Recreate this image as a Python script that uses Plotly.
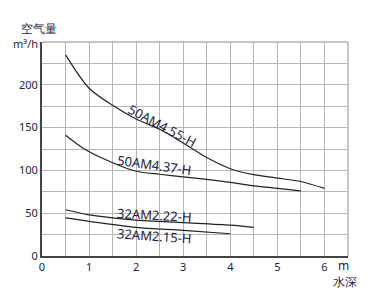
import plotly.graph_objects as go

x_4_55 = [0.5, 1.0, 1.5, 2.0, 2.5, 3.0, 3.5, 4.0, 4.5, 5.0, 5.5, 6.0]
y_4_55 = [235, 196, 176, 160, 148, 132, 115, 102, 95, 91, 87, 79]

x_4_37 = [0.5, 0.9, 1.5, 2.0, 2.5, 3.0, 3.5, 4.0, 4.5, 5.0, 5.5]
y_4_37 = [141, 125, 109, 99, 95.5, 92.5, 89.5, 86, 82, 79, 76]

x_2_22 = [0.5, 1.0, 1.5, 2.0, 3.0, 4.0, 4.5]
y_2_22 = [54, 48, 44.5, 42, 39, 36, 33.5]

x_2_15 = [0.5, 1.0, 2.0, 3.0, 4.0]
y_2_15 = [44.5, 40.5, 33.5, 30, 26]

labels = ["50AM4.55-H", "50AM4.37-H", "32AM2.22-H", "32AM2.15-H"]
label_x = [2.57, 2.4, 2.4, 2.4]
label_y = [152, 106, 48, 23]
label_angle = [28, 8, 3, 4]

x_ticks = [0, 0.5, 1, 1.5, 2, 2.5, 3, 3.5, 4, 4.5, 5, 5.5, 6, 6.5]
x_ticktext = ["0", "", "1", "", "2", "", "3", "", "4", "", "5", "", "6", ""]
y_ticks = [0, 25, 50, 75, 100, 125, 150, 175, 200, 225, 250]
y_ticktext = ["0", "", "50", "", "100", "", "150", "", "200", "", ""]

txt = "#1c1c3c"
font = "Noto Sans"
grid = "#b5b5b5"

fig = go.Figure()
for xs, ys in [(x_4_55, y_4_55), (x_4_37, y_4_37), (x_2_22, y_2_22), (x_2_15, y_2_15)]:
    fig.add_trace(go.Scatter(x=xs, y=ys, mode="lines", line=dict(color="#222222", width=1.2, shape="spline", smoothing=0.8),
                             showlegend=False, hoverinfo="skip"))

for t, lx, ly, a in zip(labels, label_x, label_y, label_angle):
    fig.add_annotation(x=lx, y=ly, text=t, textangle=a, showarrow=False,
                       font=dict(family=font, size=13, color=txt))

fig.add_shape(type="line", xref="paper", yref="paper", x0=0, x1=1, y0=1, y1=1,
              line=dict(color=grid, width=1.5), layer="below")
fig.add_shape(type="line", xref="paper", yref="paper", x0=1, x1=1, y0=0, y1=1,
              line=dict(color=grid, width=1.5), layer="below")

fig.add_annotation(xref="paper", yref="paper", x=-0.075, y=1.062, xanchor="left", yanchor="middle",
                   text="空气量", showarrow=False, font=dict(family=font, size=12, color=txt))
fig.add_annotation(xref="paper", yref="paper", x=-0.008, y=0.995, xanchor="right", yanchor="middle",
                   text="m³/h", showarrow=False, font=dict(family=font, size=11, color=txt))
fig.add_annotation(xref="paper", yref="paper", x=0.985, y=-0.045, xanchor="center", yanchor="middle",
                   text="m", showarrow=False, font=dict(family=font, size=12, color=txt))
fig.add_annotation(xref="paper", yref="paper", x=0.99, y=-0.12, xanchor="center", yanchor="middle",
                   text="水深", showarrow=False, font=dict(family=font, size=12, color=txt))

fig.update_xaxes(range=[0, 6.5], tickvals=x_ticks, ticktext=x_ticktext, showgrid=True,
                 gridcolor=grid, gridwidth=1.2, showline=True, linecolor="#444444", linewidth=2,
                 zeroline=False, ticks="", tickfont=dict(family=font, size=11, color=txt))
fig.update_yaxes(range=[0, 250], tickvals=y_ticks, ticktext=y_ticktext, showgrid=True,
                 gridcolor=grid, gridwidth=1.2, showline=True, linecolor="#444444", linewidth=2,
                 zeroline=False, ticks="", tickfont=dict(family=font, size=11, color=txt))

fig.update_layout(width=369, height=297, margin=dict(l=42, r=21, t=42, b=41),
                  plot_bgcolor="white", paper_bgcolor="white")

fig.write_html("out.html")
